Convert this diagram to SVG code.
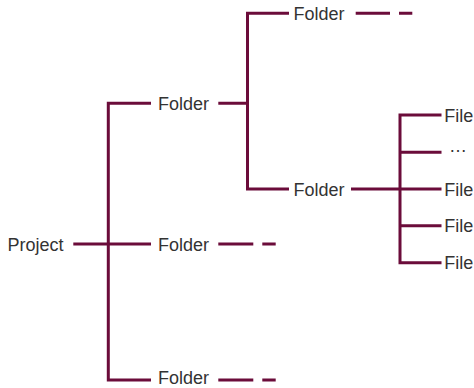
<svg xmlns="http://www.w3.org/2000/svg" width="474" height="388" viewBox="0 0 474 388">
<style>
.c{stroke:#6b0c3a;stroke-width:3;fill:none;stroke-linecap:butt}
.t{font-family:"Liberation Sans",Arial,sans-serif;font-size:18px;fill:#333}
</style>
<rect width="474" height="388" fill="#fff"/>
<g id="connectors">
<path class="c" d="M73.3 244H151"/>
<path class="c" d="M108.3 103.3V380M106.8 103.3H151M106.8 380H151"/>
<path class="c" d="M218.3 103.3H247.5M247.5 11.8V190.5M246 13.3H289M246 189H289"/>
<path class="c" d="M355.7 13.3H390M399 13.3H412.3"/>
<path class="c" d="M218.3 244H253.3M262.3 244H275.7"/>
<path class="c" d="M218.3 380H253.3M262.3 380H275.7"/>
<path class="c" d="M351 189H441.5M400 113.5V264.2M398.5 115H441.5M400 152.3H441.5M400 225.7H441.5M398.5 262.7H441.5"/>
</g>
<g id="project"><text class="t" x="7.6" y="250.5">Project</text></g>
<g id="folder1"><text class="t" x="158" y="110">Folder</text></g>
<g id="folder2"><text class="t" x="158" y="250.5">Folder</text></g>
<g id="folder3"><text class="t" x="158" y="384">Folder</text></g>
<g id="folder4"><text class="t" x="293.6" y="19.8">Folder</text></g>
<g id="folder5"><text class="t" x="293.6" y="195.5">Folder</text></g>
<g id="file1"><text class="t" x="444.3" y="121.5">File</text></g>
<g id="ellipsis"><text class="t" x="449" y="151.5">…</text></g>
<g id="file2"><text class="t" x="444.3" y="195.5">File</text></g>
<g id="file3"><text class="t" x="444.3" y="232.2">File</text></g>
<g id="file4"><text class="t" x="444.3" y="269.2">File</text></g>
</svg>
